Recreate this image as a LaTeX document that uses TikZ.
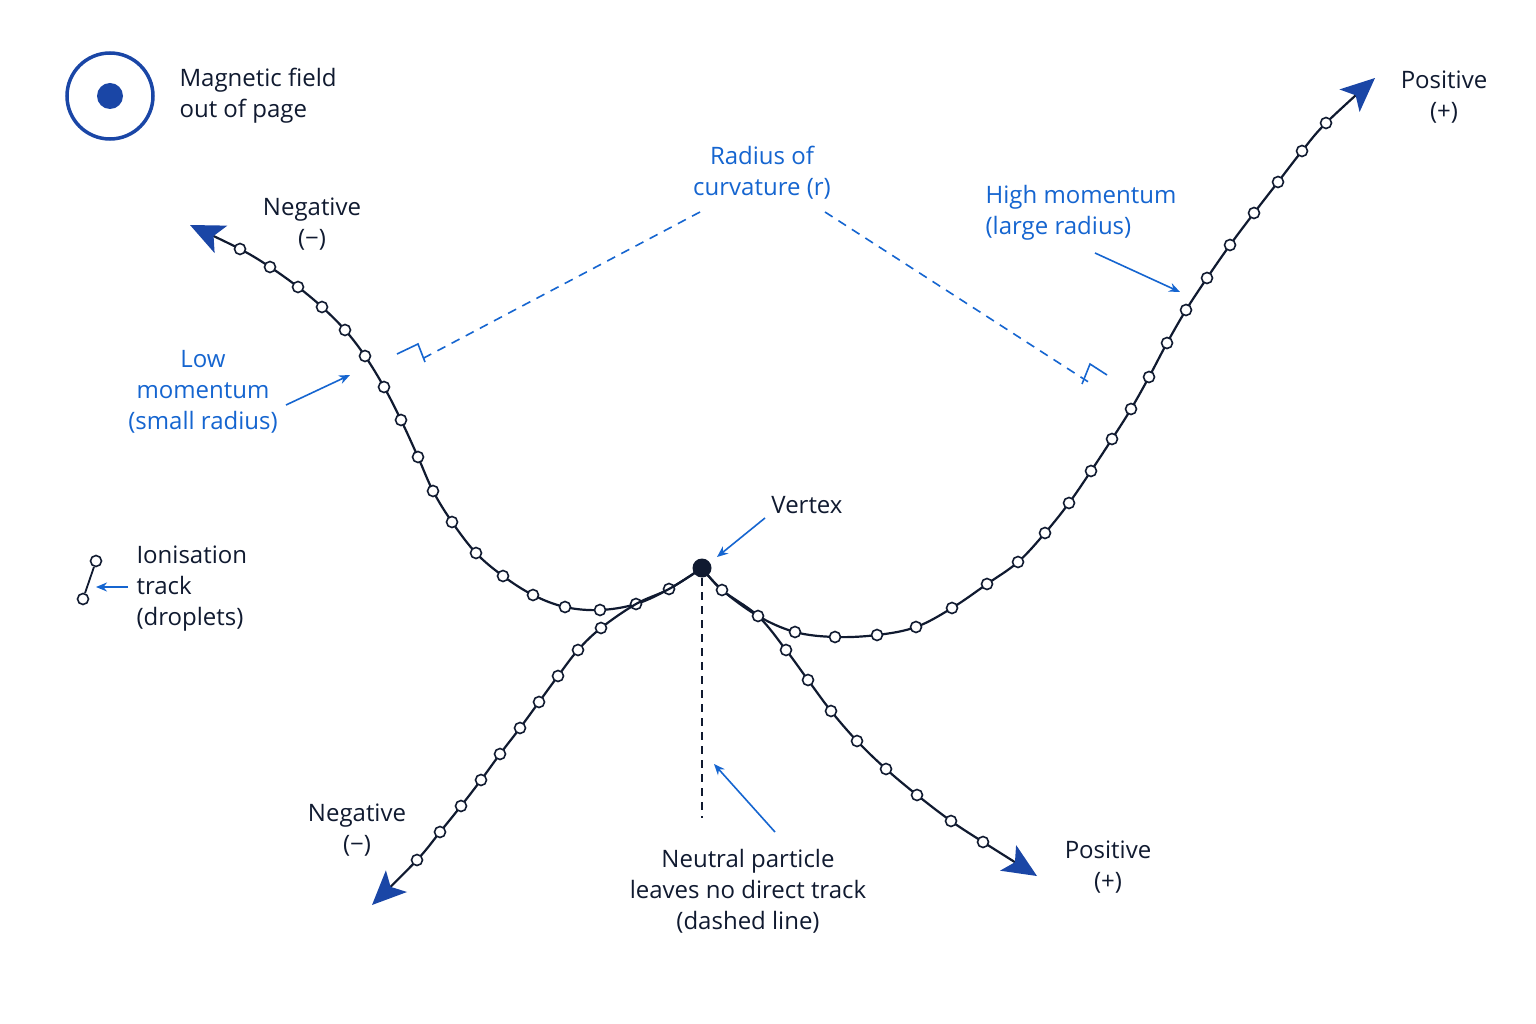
\documentclass[tikz,border=0pt]{standalone}
\usepackage{fontspec}
\setmainfont{Open Sans}
\usetikzlibrary{arrows.meta}
\definecolor{ink}{HTML}{101A30}
\definecolor{lab}{HTML}{1565D0}
\definecolor{ahd}{HTML}{1A46A6}
\begin{document}
\begin{tikzpicture}[x=1pt,y=-1pt,
 trk/.style={draw=ink,line width=2.2pt},
 big/.style={-{Stealth[length=34pt,width=30pt,inset=8pt,color=ahd]}},
 drop/.style={circle,draw=ink,fill=white,line width=1.6pt,inner sep=0pt,minimum size=11pt},
 txt/.style={text=ink,font=\fontsize{24}{31}\selectfont,align=center},
 btxt/.style={text=lab,font=\fontsize{24}{31}\selectfont,align=center},
 pt/.style={-{Stealth[length=11pt,width=9pt]},draw=lab,line width=1.6pt},
 rad/.style={draw=lab,line width=1.6pt,dash pattern=on 9pt off 7pt}]
\useasboundingbox (0,0) rectangle (1536,1024);
\fill[white] (0,0) rectangle (1536,1024);
% legend
\node[circle,draw=ahd,line width=3.5pt,minimum size=86pt] (bf) at (110,96) {};
\fill[ahd] (bf.center) circle (13);
\node[txt,align=left,anchor=west] (bft) at (176,96) {Magnetic field\\out of page};
\node[drop] (l1) at (96,561) {}; \node[drop] (l2) at (83,599) {};
\draw[trk,line width=1.8pt] (l1) -- (l2);
\node[txt,align=left,anchor=west] (it) at (133,589) {Ionisation\\track\\(droplets)};
\coordinate (ia) at (128,587); \coordinate (ib) at (96,587);
\draw[pt] (ia) -- (ib);
% vertex
\coordinate (V) at (702,568);
% left negative (low momentum)
\draw[trk,big] plot[smooth,tension=0.6] coordinates {(702,568)(669,589)(636,604)(600,610)(565,607)(533,595)(503,576)(476,553)(452,522)(433,491)(418,457)(401,420)(384,387)(365,356)(345,330)(322,307)(298,287)(270,267)(240,249)(190,225)};
\foreach \p in {(669,589),(636,604),(600,610),(565,607),(533,595),(503,576),(476,553),(452,522),(433,491),(418,457),(401,420),(384,387),(365,356),(345,330),(322,307),(298,287),(270,267),(240,249)} \node[drop] at \p {};
% lower-left negative
\draw[trk,big] plot[smooth,tension=0.6] coordinates {(702,568)(669,589)(636,604)(601,628)(578,650)(558,676)(539,702)(520,728)(500,754)(481,780)(461,806)(440,832)(417,860)(372,905)};
\foreach \p in {(601,628),(578,650),(558,676),(539,702),(520,728),(500,754),(481,780),(461,806),(440,832),(417,860)} \node[drop] at \p {};
% right positive (high momentum)
\draw[trk,big] plot[smooth,tension=0.6] coordinates {(702,568)(722,590)(758,616)(795,632)(835,637)(877,635)(916,627)(952,608)(987,584)(1018,562)(1045,533)(1069,503)(1091,471)(1112,439)(1131,409)(1149,377)(1167,343)(1186,310)(1207,278)(1230,245)(1254,213)(1278,182)(1302,151)(1326,123)(1375,78)};
\foreach \p in {(795,632),(835,637),(877,635),(916,627),(952,608),(987,584),(1018,562),(1045,533),(1069,503),(1091,471),(1112,439),(1131,409),(1149,377),(1167,343),(1186,310),(1207,278),(1230,245),(1254,213),(1278,182),(1302,151),(1326,123)} \node[drop] at \p {};
% lower-right positive
\draw[trk,big] plot[smooth,tension=0.6] coordinates {(702,568)(722,590)(758,616)(786,650)(808,680)(831,711)(857,741)(886,769)(917,795)(951,821)(983,842)(1037,876)};
\foreach \p in {(722,590),(758,616),(786,650),(808,680),(831,711),(857,741),(886,769),(917,795),(951,821),(983,842)} \node[drop] at \p {};
\fill[ink] (V) circle (9.5);
% neutral
\coordinate (n1) at (702,578); \coordinate (n2) at (702,818);
\draw[ink,line width=2pt,dash pattern=on 8pt off 6pt] (n1) -- (n2);
% radius
\coordinate (r1) at (700,212); \coordinate (r2) at (420,360);
\coordinate (r3) at (825,212); \coordinate (r4) at (1090,383);
\draw[rad] (r1) -- (r2);
\draw[rad] (r3) -- (r4);
\draw[lab,line width=1.6pt] (397,354) -- (418,344) -- (425,362);
\draw[lab,line width=1.6pt] (1082,384) -- (1090,364) -- (1107,375);
% labels
\node[btxt] (rl) at (762,173) {Radius of\\curvature (r)};
\node[txt] (nt) at (312,224) {Negative\\(−)};
\node[txt] (pt1) at (1444,97) {Positive\\(+)};
\node[txt] (nb) at (357,830) {Negative\\(−)};
\node[txt] (pb) at (1108,867) {Positive\\(+)};
\node[btxt] (lm) at (203,392) {Low\\momentum\\(small radius)};
\node[btxt,align=left] (hm) at (1081,213) {High momentum\\(large radius)};
\node[txt] (vx) at (807,505) {Vertex};
\node[txt] (np) at (748,891) {Neutral particle\\leaves no direct track\\(dashed line)};
\coordinate (a1) at (286,405); \coordinate (a2) at (350,375);
\draw[pt] (a1) -- (a2);
\coordinate (b1) at (1095,253); \coordinate (b2) at (1180,292);
\draw[pt] (b1) -- (b2);
\coordinate (c1) at (765,518); \coordinate (c2) at (717,557);
\draw[pt] (c1) -- (c2);
\coordinate (d1) at (775,832); \coordinate (d2) at (714,764);
\draw[pt] (d1) -- (d2);
\end{tikzpicture}
\end{document}
